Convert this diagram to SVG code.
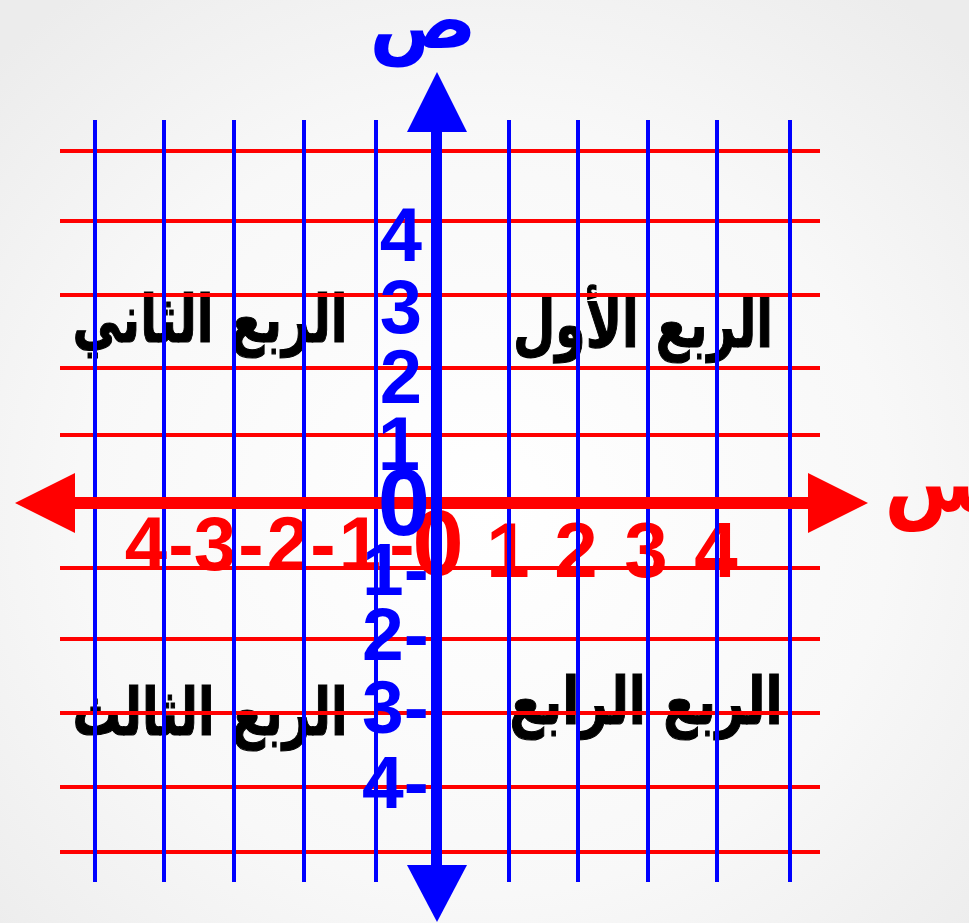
<svg xmlns="http://www.w3.org/2000/svg" width="969" height="923" viewBox="0 0 969 923">
<defs>
<radialGradient id="bg" cx="50%" cy="55%" r="70%">
<stop offset="0" stop-color="#ffffff"/>
<stop offset="0.6" stop-color="#f8f8f8"/>
<stop offset="1" stop-color="#ececec"/>
</radialGradient>
<style>
.rg{stroke:#ff0000;stroke-width:4}
.bg{stroke:#0000ff;stroke-width:4}
.ar{font-family:"DejaVu Sans",sans-serif;font-weight:bold;font-size:66px;fill:#000;stroke:#000;stroke-width:1.2}
.rd{font-family:"Liberation Sans",Arial,sans-serif;font-weight:bold;fill:#ff0000;text-anchor:middle}
.bd{font-family:"Liberation Sans",Arial,sans-serif;font-weight:bold;fill:#0000ff}
</style>
</defs>
<rect width="969" height="923" fill="url(#bg)"/>

<g id="quadrant-labels">
<text class="ar" x="210" y="342" text-anchor="middle" textLength="275" lengthAdjust="spacingAndGlyphs">الربع الثاني</text>
<text class="ar" x="643" y="347" text-anchor="middle" textLength="260" lengthAdjust="spacingAndGlyphs">الربع الأول</text>
<text class="ar" x="210" y="735" text-anchor="middle" textLength="275" lengthAdjust="spacingAndGlyphs">الربع الثالث</text>
<text class="ar" x="646" y="724" text-anchor="middle" textLength="273" lengthAdjust="spacingAndGlyphs">الربع الرابع</text>
</g>

<g id="x-numbers">
<text class="rd" font-size="76" y="570" x="146 181 215 251 288 323 360 402">4-3-2-1-</text>
<text class="rd" font-size="92" x="438" y="575">0</text>
<text class="rd" font-size="78" y="577" x="508 576 646 716">1234</text>
</g>

<g id="grid">
<g id="grid-horizontal">
<line class="rg" x1="60" y1="151" x2="820" y2="151"/>
<line class="rg" x1="60" y1="221" x2="820" y2="221"/>
<line class="rg" x1="60" y1="295" x2="820" y2="295"/>
<line class="rg" x1="60" y1="368" x2="820" y2="368"/>
<line class="rg" x1="60" y1="435" x2="820" y2="435"/>
<line class="rg" x1="60" y1="568" x2="820" y2="568"/>
<line class="rg" x1="60" y1="639" x2="820" y2="639"/>
<line class="rg" x1="60" y1="713" x2="820" y2="713"/>
<line class="rg" x1="60" y1="787" x2="820" y2="787"/>
<line class="rg" x1="60" y1="852" x2="820" y2="852"/>
</g>
<g id="grid-vertical">
<line class="bg" x1="95" y1="120" x2="95" y2="882"/>
<line class="bg" x1="164" y1="120" x2="164" y2="882"/>
<line class="bg" x1="234" y1="120" x2="234" y2="882"/>
<line class="bg" x1="304" y1="120" x2="304" y2="882"/>
<line class="bg" x1="376" y1="120" x2="376" y2="882"/>
<line class="bg" x1="509" y1="120" x2="509" y2="882"/>
<line class="bg" x1="578" y1="120" x2="578" y2="882"/>
<line class="bg" x1="648" y1="120" x2="648" y2="882"/>
<line class="bg" x1="717" y1="120" x2="717" y2="882"/>
<line class="bg" x1="790" y1="120" x2="790" y2="882"/>
</g>
</g>

<g id="x-axis">
<rect x="74" y="497" width="736" height="12" fill="#ff0000"/>
<polygon points="15,503 75,473 75,533" fill="#ff0000"/>
<polygon points="868,503 808,473 808,533" fill="#ff0000"/>
</g>

<g id="y-axis">
<rect x="431" y="130" width="11" height="737" fill="#0000ff"/>
<polygon points="437,72 407,132 467,132" fill="#0000ff"/>
<polygon points="437,922 407,865 467,865" fill="#0000ff"/>
</g>

<g id="y-numbers">
<text class="bd" font-size="76" x="401" y="261" text-anchor="middle">4</text>
<text class="bd" font-size="76" x="401" y="333" text-anchor="middle">3</text>
<text class="bd" font-size="76" x="401" y="403" text-anchor="middle">2</text>
<text class="bd" font-size="76" x="399" y="470" text-anchor="middle">1</text>
<text class="bd" font-size="94" x="404" y="535" text-anchor="middle">0</text>
<text class="bd" font-size="75" x="362" y="595">1-</text>
<text class="bd" font-size="75" x="362" y="660">2-</text>
<text class="bd" font-size="75" x="362" y="733">3-</text>
<text class="bd" font-size="75" x="362" y="808">4-</text>
</g>

<g id="axis-names">
<text x="423" y="48" font-family="DejaVu Sans,sans-serif" font-weight="bold" font-size="80" fill="#0000ff" text-anchor="middle">ص</text>
<text x="884" y="512" font-family="DejaVu Sans,sans-serif" font-weight="bold" font-size="84" fill="#ff0000">س</text>
</g>
</svg>
